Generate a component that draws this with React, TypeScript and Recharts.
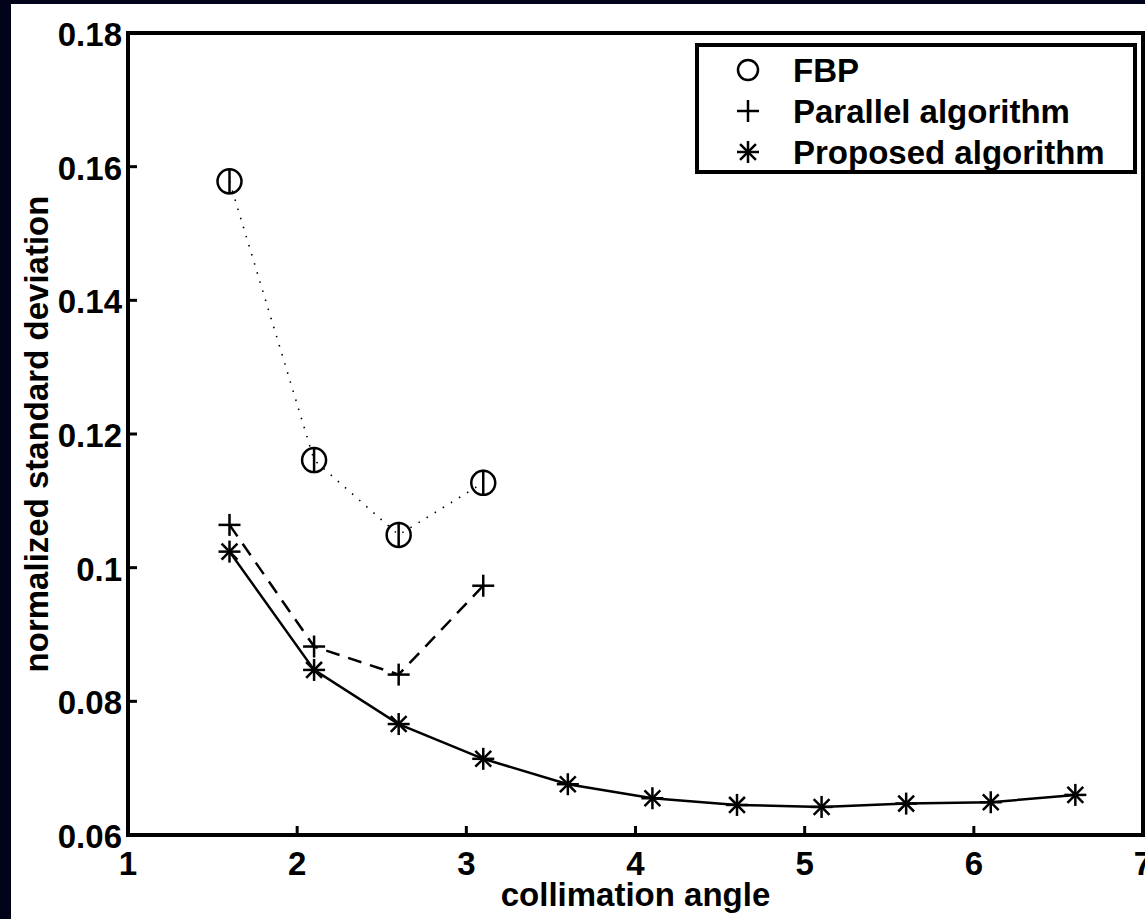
import React from 'react';
import { LineChart, Line, XAxis, YAxis, Legend } from 'recharts';

const xProposed = [1.6, 2.1, 2.6, 3.1, 3.6, 4.1, 4.6, 5.1, 5.6, 6.1, 6.6];
const proposedValues = [0.1024, 0.0847, 0.0766, 0.0714, 0.0676, 0.0655, 0.0645, 0.0642, 0.0647, 0.0649, 0.066];
const xShort = [1.6, 2.1, 2.6, 3.1];
const parallelValues = [0.1064, 0.0882, 0.084, 0.0973];
const fbpValues = [0.1578, 0.1161, 0.1049, 0.1127];
const xTicks = [1, 2, 3, 4, 5, 6, 7];
const yTicks = [0.06, 0.08, 0.1, 0.12, 0.14, 0.16, 0.18];
const seriesNames = ['FBP', 'Parallel algorithm', 'Proposed algorithm'];

const proposedData = xProposed.map((x, i) => ({ x, y: proposedValues[i] }));
const parallelData = xShort.map((x, i) => ({ x, y: parallelValues[i] }));
const fbpData = xShort.map((x, i) => ({ x, y: fbpValues[i] }));

const FONT = '"Liberation Sans", Arial, Helvetica, sans-serif';
const FS = 33;

const XTick = (props: any) => {
  const { x, y, payload } = props;
  return (
    <g>
      <line x1={x} x2={x} y1={y - 40} y2={y - 49} stroke="#000" strokeWidth={3} />
      <text x={x} y={y} textAnchor="middle" fontFamily={FONT} fontWeight="bold" fontSize={FS} fill="#000">
        {payload.value}
      </text>
    </g>
  );
};

const YTick = (props: any) => {
  const { x, y, payload } = props;
  return (
    <g>
      <line x1={x + 6} x2={x + 15} y1={y} y2={y} stroke="#000" strokeWidth={3} />
      <text x={x} y={y + 13} textAnchor="end" fontFamily={FONT} fontWeight="bold" fontSize={FS} fill="#000">
        {String(payload.value)}
      </text>
    </g>
  );
};

const CircleMark = ({ cx, cy, r = 12, bar = true }: any) => (
  <g>
    <circle cx={cx} cy={cy} r={r} fill="none" stroke="#000" strokeWidth={2.5} />
    {bar && <line x1={cx} x2={cx} y1={cy - r - 1} y2={cy + r + 1} stroke="#000" strokeWidth={2.5} />}
  </g>
);

const PlusMark = ({ cx, cy, s = 11 }: any) => (
  <g stroke="#000" strokeWidth={2.5}>
    <line x1={cx - s} x2={cx + s} y1={cy} y2={cy} />
    <line x1={cx} x2={cx} y1={cy - s} y2={cy + s} />
  </g>
);

const StarMark = ({ cx, cy, s = 11 }: any) => {
  const d = s * 0.72;
  return (
    <g stroke="#000" strokeWidth={2.5}>
      <line x1={cx - s} x2={cx + s} y1={cy} y2={cy} />
      <line x1={cx} x2={cx} y1={cy - s} y2={cy + s} />
      <line x1={cx - d} x2={cx + d} y1={cy - d} y2={cy + d} />
      <line x1={cx - d} x2={cx + d} y1={cy + d} y2={cy - d} />
    </g>
  );
};

const LegendBox = () => {
  const rows = [
    { name: seriesNames[0], mark: (cy: number) => <CircleMark cx={53} cy={cy} r={10} bar={false} /> },
    { name: seriesNames[1], mark: (cy: number) => <PlusMark cx={53} cy={cy} /> },
    { name: seriesNames[2], mark: (cy: number) => <StarMark cx={53} cy={cy} /> },
  ];
  return (
    <svg width={442} height={131} style={{ display: 'block' }}>
      <rect x={2} y={2} width={438} height={127} fill="#fff" stroke="#000" strokeWidth={4} />
      {rows.map((r, i) => {
        const cy = 27 + i * 41;
        return (
          <g key={r.name}>
            {r.mark(cy)}
            <text x={98} y={cy + 12} fontFamily={FONT} fontWeight="bold" fontSize={FS} fill="#000">
              {r.name}
            </text>
          </g>
        );
      })}
    </svg>
  );
};

const axisLineStyle = { stroke: '#000', strokeWidth: 4, strokeLinecap: 'square' as const };

export default function App() {
  return (
    <div style={{ position: 'absolute', left: 0, top: 0, width: 1145, height: 919, background: '#00031a', overflow: 'hidden' }}>
      <div style={{ position: 'absolute', left: 11, top: 4, width: 1134, height: 915, background: '#fff' }}>
        <LineChart width={1134} height={915} margin={{ top: 29, right: 2, bottom: 4, left: 17 }}>
          <XAxis
            xAxisId={0}
            dataKey="x"
            type="number"
            domain={[1, 7]}
            ticks={xTicks}
            allowDataOverflow
            height={80}
            tickSize={0}
            tickMargin={40}
            tickLine={false}
            axisLine={axisLineStyle}
            tick={<XTick />}
            interval={0}
            label={{
              content: (p: any) => {
                const vb = p.viewBox || {};
                return (
                  <text x={vb.x + vb.width / 2} y={vb.y + 71} textAnchor="middle" fontFamily={FONT} fontWeight="bold" fontSize={FS} fill="#000">
                    collimation angle
                  </text>
                );
              },
            }}
          />
          <XAxis
            xAxisId="top"
            orientation="top"
            type="number"
            domain={[1, 7]}
            ticks={xTicks}
            allowDataOverflow
            mirror
            height={30}
            tickSize={9}
            tickLine={{ stroke: '#000', strokeWidth: 3 }}
            axisLine={axisLineStyle}
            tick={false}
            interval={0}
          />
          <YAxis
            yAxisId={0}
            type="number"
            domain={[0.06, 0.18]}
            ticks={yTicks}
            allowDataOverflow
            width={100}
            tickSize={0}
            tickMargin={6}
            tickLine={false}
            axisLine={axisLineStyle}
            tick={<YTick />}
            interval={0}
            label={{
              content: (p: any) => {
                const vb = p.viewBox || {};
                const cx = vb.x + 8;
                const cy = vb.y + vb.height / 2;
                return (
                  <text x={cx} y={cy} transform={`rotate(-90 ${cx} ${cy})`} textAnchor="middle" dominantBaseline="central" fontFamily={FONT} fontWeight="bold" fontSize={FS} fill="#000">
                    normalized standard deviation
                  </text>
                );
              },
            }}
          />
          <YAxis
            yAxisId="right"
            orientation="right"
            type="number"
            domain={[0.06, 0.18]}
            ticks={yTicks}
            allowDataOverflow
            mirror
            width={40}
            tickSize={9}
            tickLine={{ stroke: '#000', strokeWidth: 3 }}
            axisLine={axisLineStyle}
            tick={false}
            interval={0}
          />
          <Line
            data={fbpData}
            dataKey="y"
            name={seriesNames[0]}
            stroke="#000"
            strokeWidth={1.6}
            strokeDasharray="1.5 8"
            isAnimationActive={false}
            dot={(p: any) => <CircleMark key={`f${p.index}`} cx={p.cx} cy={p.cy} />}
            activeDot={false}
          />
          <Line
            data={parallelData}
            dataKey="y"
            name={seriesNames[1]}
            stroke="#000"
            strokeWidth={2.5}
            strokeDasharray="14 9"
            isAnimationActive={false}
            dot={(p: any) => <PlusMark key={`p${p.index}`} cx={p.cx} cy={p.cy} />}
            activeDot={false}
          />
          <Line
            data={proposedData}
            dataKey="y"
            name={seriesNames[2]}
            stroke="#000"
            strokeWidth={2.5}
            isAnimationActive={false}
            dot={(p: any) => <StarMark key={`s${p.index}`} cx={p.cx} cy={p.cy} />}
            activeDot={false}
          />
          <Legend
            layout="vertical"
            align="center"
            verticalAlign="middle"
            content={() => <LegendBox />}
            wrapperStyle={{ position: 'absolute', left: 684, top: 39, width: 442, height: 131 }}
          />
        </LineChart>
      </div>
    </div>
  );
}
